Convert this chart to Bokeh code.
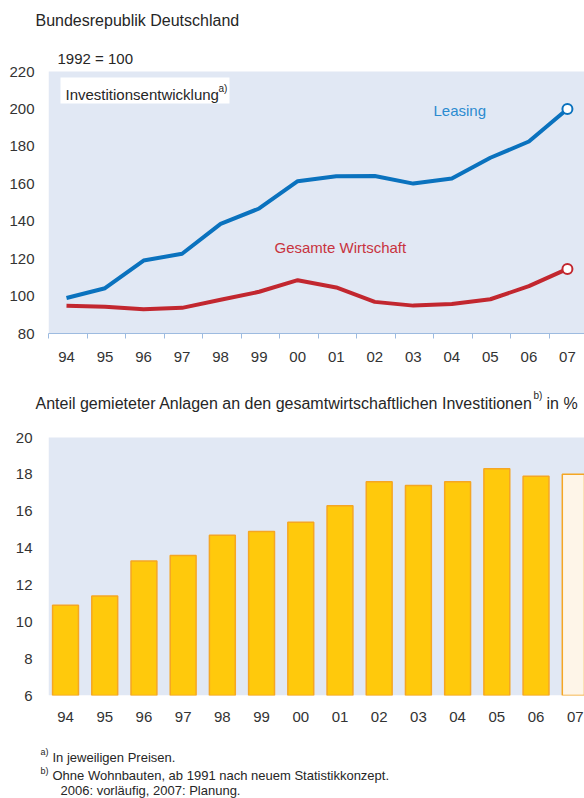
from bokeh.plotting import figure
from bokeh.models import Range1d, FixedTicker, Label, BoxAnnotation, ColumnDataSource
from bokeh.layouts import column, row
from bokeh.embed import file_html
from bokeh.resources import INLINE

# ---------------- data ----------------
years = ["94", "95", "96", "97", "98", "99", "00", "01", "02", "03", "04", "05", "06", "07"]
leasing = [99.0, 104.2, 119.0, 122.6, 138.6, 146.8, 161.4, 164.0, 164.2, 160.1, 162.8, 173.9, 182.6, 200.0]
gesamt = [94.8, 94.3, 93.0, 93.7, 98.0, 102.3, 108.5, 104.6, 96.9, 94.9, 95.8, 98.3, 105.3, 114.5]
anteil = [10.9, 11.4, 13.3, 13.6, 14.7, 14.9, 15.4, 16.3, 17.6, 17.4, 17.6, 18.3, 17.9, 18.0]
status = ["Ist"] * 12 + ["vorläufig", "Planung"]
top_ticks = [80, 100, 120, 140, 160, 180, 200, 220]
bottom_ticks = [6, 8, 10, 12, 14, 16, 18, 20]

# ---------------- styles ----------------
FONT = "Liberation Sans"
BG = "#E1E8F4"
TXT = "#262626"
BLUE = "#0A72BE"
RED = "#C2272F"
BLUE_TXT = "#2B8BD0"
RED_TXT = "#C8333E"
AXIS_BLUE = "#9DBBE0"
BAR_FILL = "#FFC90C"
BAR_LINE = "#F5A623"
PLAN_FILL = "#FEF5E8"
W = 584

x = list(range(len(years)))
labels = {i: y for i, y in enumerate(years)}


def put(p, text, px, py, fl, fb, size, color=TXT, align="left"):
    p.add_layout(Label(x=px - fl, y=fb - py, x_units="screen", y_units="screen",
                       text=text, text_font=FONT, text_font_size=size,
                       text_color=color, text_align=align, text_baseline="middle"))


def text_fig(h):
    f = figure(width=W, height=h, x_range=Range1d(0, 1), y_range=Range1d(0, 1),
               min_border=0, x_axis_location=None, y_axis_location=None, title=None,
               output_backend="svg", toolbar_location=None)
    f.outline_line_color = None
    f.background_fill_color = "white"
    f.border_fill_color = "white"
    f.grid.visible = False
    return f


def style_common(p):
    p.background_fill_color = "white"
    p.border_fill_color = "white"
    p.outline_line_color = None
    p.xgrid.visible = False
    p.ygrid.visible = False
    for ax in (p.xaxis[0], p.yaxis[0]):
        ax.major_label_text_font = FONT
        ax.major_label_text_font_size = "15px"
        ax.major_label_text_color = "#333333"
        ax.major_tick_in = 0
        ax.major_tick_out = 0
        ax.major_tick_line_color = None
    p.yaxis.axis_line_color = None
    p.yaxis.minor_tick_line_color = None


FL = 48  # frame left (page px)

# ---------------- header 1 ----------------
Y_H1 = 0
h1 = text_fig(50)
put(h1, "Bundesrepublik Deutschland", 35, 20, 0, Y_H1 + 50, "16px")

# ---------------- top chart ----------------
Y_P1 = 50
FB1 = 333
x0_top = -0.467
px_y1 = (333 - 71) / 140.0
p1 = figure(width=W, height=322, x_range=Range1d(x0_top, x0_top + 13.91),
            y_range=Range1d(80, 220 + (71 - Y_P1) / px_y1), title=None,
            output_backend="svg", toolbar_location=None,
            min_border_left=FL, min_border_right=0, min_border_top=0, min_border_bottom=39)
style_common(p1)
p1.add_layout(BoxAnnotation(bottom=80, top=220, fill_color=BG, fill_alpha=1.0,
                            line_alpha=0, level="underlay"))
boundaries = [x0_top + i for i in range(len(years))]
p1.xaxis.ticker = FixedTicker(ticks=x, minor_ticks=boundaries)
p1.xaxis.major_label_overrides = labels
p1.xaxis.axis_line_color = AXIS_BLUE
p1.xaxis.minor_tick_line_color = AXIS_BLUE
p1.xaxis.minor_tick_in = 0
p1.xaxis.minor_tick_out = 5
p1.xaxis.major_label_standoff = 13
p1.yaxis.ticker = FixedTicker(ticks=top_ticks)
p1.yaxis.major_label_standoff = 14


def tx(px):
    return x0_top + (px - FL) / 38.54


def ty(py):
    return 220 - (py - 71) / px_y1


p1.add_layout(BoxAnnotation(left=tx(60), right=tx(229), top=ty(77), bottom=ty(103),
                            fill_color="white", fill_alpha=1.0, line_alpha=0))

p1.line(x, gesamt, line_width=4, line_color=RED, line_join="round")
p1.line(x, leasing, line_width=4, line_color=BLUE, line_join="round")
p1.scatter([x[-1]], [leasing[-1]], size=10, fill_color="white", line_color=BLUE, line_width=2)
p1.scatter([x[-1]], [gesamt[-1]], size=10, fill_color="white", line_color=RED, line_width=2)

put(p1, "1992 = 100", 57, 58, FL, FB1, "15px")
put(p1, "Investitionsentwicklung", 65, 94, FL, FB1, "15px")
put(p1, "a)", 218, 88, FL, FB1, "10px")
put(p1, "Leasing", 433, 110, FL, FB1, "15px", BLUE_TXT)
put(p1, "Gesamte Wirtschaft", 274, 247, FL, FB1, "15px", RED_TXT)

# ---------------- header 2 ----------------
Y_H2 = 372
h2 = text_fig(48)
B_H2 = Y_H2 + 48
put(h2, "Anteil gemieteter Anlagen an den gesamtwirtschaftlichen Investitionen", 35, 403, 0, B_H2, "16px")
put(h2, "b)", 533, 395, 0, B_H2, "10px")
put(h2, "in %", 546, 403, 0, B_H2, "16px")

# ---------------- bottom chart ----------------
Y_P2 = 420
FB2 = 695
x0_bot = -0.434
px_y2 = (695 - 437) / 14.0
p2 = figure(width=W, height=315, x_range=Range1d(x0_bot, x0_bot + 13.67),
            y_range=Range1d(6, 20 + (437 - Y_P2) / px_y2), title=None,
            output_backend="svg", toolbar_location=None,
            min_border_left=FL, min_border_right=0, min_border_top=0, min_border_bottom=40)
style_common(p2)
p2.add_layout(BoxAnnotation(bottom=6, top=20, fill_color=BG, fill_alpha=1.0,
                            line_alpha=0, level="underlay"))
p2.xaxis.ticker = FixedTicker(ticks=x)
p2.xaxis.major_label_overrides = labels
p2.xaxis.axis_line_color = None
p2.xaxis.minor_tick_line_color = None
p2.xaxis.major_label_standoff = 16
p2.yaxis.ticker = FixedTicker(ticks=bottom_ticks)
p2.yaxis.major_label_standoff = 16

fill_map = {"Ist": BAR_FILL, "vorläufig": BAR_FILL, "Planung": PLAN_FILL}
src = ColumnDataSource(dict(x=x, top=anteil, fill=[fill_map[s] for s in status]))
p2.vbar(x="x", top="top", bottom=6, width=0.66, source=src,
        fill_color="fill", line_color=BAR_LINE, line_width=1.5)

# ---------------- footer ----------------
Y_F = 735
hf = text_fig(63)
B_F = Y_F + 63
put(hf, "a)", 40, 751, 0, B_F, "9px")
put(hf, "In jeweiligen Preisen.", 52, 757, 0, B_F, "13px")
put(hf, "b)", 40, 770, 0, B_F, "9px")
put(hf, "Ohne Wohnbauten, ab 1991 nach neuem Statistikkonzept.", 52, 775, 0, B_F, "13px")
put(hf, "2006: vorläufig, 2007: Planung.", 60, 790, 0, B_F, "13px")

layout = column(row(h1), p1, row(h2), p2, row(hf), spacing=0)
open("out.html", "w").write(file_html(layout, INLINE))
